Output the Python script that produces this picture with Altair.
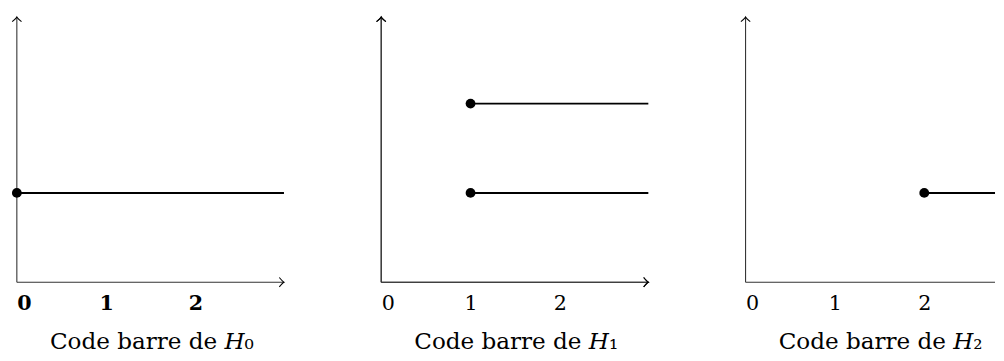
import altair as alt
import pandas as pd

# ---- data ----
panel_names = ["H0", "H1", "H2"]
panel_titles = ["Code barre de 𝐻₀", "Code barre de 𝐻₁", "Code barre de 𝐻₂"]
bar_panel = ["H0", "H1", "H1", "H2"]
bar_birth = [0, 1, 1, 2]
bar_level = [1, 1, 2, 1]
tick_values = [0, 1, 2]
bold_tick_labels = [True, False, False]

# ---- layout / style ----
FONT = "DejaVu Serif"
X_END = 2.99   # end of horizontal axis arrow (infinite bars run to it)
Y_END = 2.97   # end of vertical axis arrow
x_domain_max = [2.99, 2.99, 2.792]
widths = [272, 272, 254]
HEIGHT = 270
AXIS_COLOR = "#333333"

RIGHT_ARROW = "M -1 -1 Q -0.3 -0.15 0 0 Q -0.3 0.15 -1 1"
UP_ARROW = "M -1 1 Q -0.15 0.3 0 0 Q 0.15 0.3 1 1"

bars_all = pd.DataFrame({"panel": bar_panel, "birth": bar_birth, "level": bar_level})


def make_panel(i):
    name = panel_names[i]
    dmax = x_domain_max[i]
    df = bars_all[bars_all["panel"] == name].copy()
    df["end"] = min(X_END, dmax)

    xs = alt.Scale(domain=[0, dmax], nice=False, zero=False)
    ys = alt.Scale(domain=[0, Y_END], nice=False, zero=False)

    xaxis = alt.Axis(
        values=tick_values, format="d", domain=False, ticks=False, grid=False,
        labelFont=FONT, labelFontSize=21, labelColor="black",
        labelFontWeight="bold" if bold_tick_labels[i] else "normal",
        labelPadding=11,
        title=panel_titles[i], titleFont=FONT, titleFontSize=23.5,
        titleFontWeight="normal", titleColor="black", titlePadding=17,
        titleX=137, titleAlign="center", titleBaseline="top",
    )

    bars = alt.Chart(df).mark_rule(color="black", strokeWidth=2).encode(
        x=alt.X("birth:Q", scale=xs, axis=xaxis),
        x2="end:Q",
        y=alt.Y("level:Q", scale=ys, axis=None),
    )
    dots = alt.Chart(df).mark_circle(color="black", opacity=1, size=100).encode(
        x=alt.X("birth:Q", scale=xs, axis=xaxis),
        y=alt.Y("level:Q", scale=ys, axis=None),
    )
    x_line = alt.Chart(df).mark_rule(color=AXIS_COLOR, strokeWidth=1.1).encode(
        x=alt.X(datum=0, scale=xs, axis=xaxis),
        x2=alt.datum(min(X_END, dmax)),
        y=alt.Y(datum=0, scale=ys, axis=None),
    )
    y_line = alt.Chart(df).mark_rule(color=AXIS_COLOR, strokeWidth=1.1).encode(
        x=alt.X(datum=0, scale=xs, axis=xaxis),
        y=alt.Y(datum=0, scale=ys, axis=None),
        y2=alt.datum(Y_END),
    )
    up = alt.Chart(df).mark_point(
        shape=UP_ARROW, filled=False, size=90, stroke="black", strokeWidth=1.1, opacity=1
    ).encode(
        x=alt.X(datum=0, scale=xs, axis=xaxis),
        y=alt.Y(datum=Y_END, scale=ys, axis=None),
    )
    layers = [x_line, y_line, up]
    if X_END <= dmax:
        right = alt.Chart(df).mark_point(
            shape=RIGHT_ARROW, filled=False, size=90, stroke="black", strokeWidth=1.1, opacity=1
        ).encode(
            x=alt.X(datum=X_END, scale=xs, axis=xaxis),
            y=alt.Y(datum=0, scale=ys, axis=None),
        )
        layers.append(right)
    layers += [bars, dots]
    return alt.layer(*layers).properties(width=widths[i], height=HEIGHT)


chart = alt.hconcat(*[make_panel(i) for i in range(3)], spacing=89).properties(
    padding={"left": 2, "top": 3, "right": 0, "bottom": 0}
).configure_view(stroke=None).configure_axis(domain=False, ticks=False, grid=False)

chart.save("out.html", embed_options={"renderer": "svg", "actions": False})
